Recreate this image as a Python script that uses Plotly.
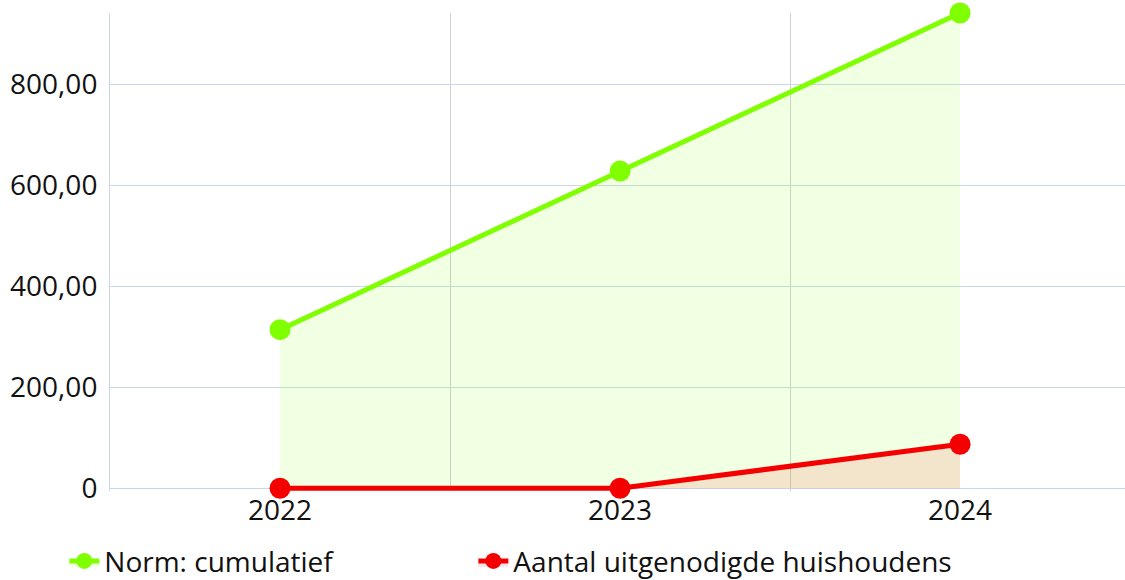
import plotly.graph_objects as go

years = ["2022", "2023", "2024"]
norm_cumulatief = [314, 628, 941]
uitgenodigd = [0, 0, 87]
y_ticks = [0, 200, 400, 600, 800]
y_ticktext = ["0", "200,00", "400,00", "600,00", "800,00"]

x_pos = list(range(len(years)))

FONT = "Open Sans"
FS = 28

fig = go.Figure()
fig.add_trace(go.Scatter(
    x=x_pos, y=norm_cumulatief, name="Norm: cumulatief",
    mode="lines+markers", fill="tozeroy",
    fillcolor="rgba(127,255,0,0.11)",
    line=dict(color="#7fff00", width=5),
    marker=dict(color="#7fff00", size=21),
    cliponaxis=False,
    legend="legend",
))
fig.add_trace(go.Scatter(
    x=x_pos, y=uitgenodigd, name="Aantal uitgenodigde huishoudens",
    mode="lines+markers", fill="tozeroy",
    fillcolor="rgba(255,0,0,0.1)",
    line=dict(color="#f50000", width=5),
    marker=dict(color="#f50000", size=21),
    cliponaxis=False,
    legend="legend2",
))

leg_common = dict(orientation="h", xanchor="left", yanchor="top", y=-0.0946,
                  bgcolor="rgba(0,0,0,0)",
                  font=dict(family=FONT, size=FS, color="#111"))

fig.update_layout(
    width=1125, height=580,
    margin=dict(l=110, r=0, t=13, b=89, autoexpand=False),
    paper_bgcolor="white", plot_bgcolor="white",
    font=dict(family=FONT, size=FS, color="#111"),
    showlegend=True,
    legend=dict(x=-0.045, **leg_common),
    legend2=dict(x=0.358, **leg_common),
    xaxis=dict(
        range=[-0.5, 2.485], tickvals=x_pos, ticktext=years,
        showgrid=False, zeroline=False, showline=False,
        ticks="", tickfont=dict(size=FS),
        minor=dict(tickvals=[0.5, 1.5], showgrid=True, gridcolor="#d0d0d0", gridwidth=1, ticks=""),
    ),
    yaxis=dict(
        range=[-5.5, 941], tickvals=y_ticks, ticktext=y_ticktext,
        showgrid=True, gridcolor="#ccd6eb", gridwidth=1,
        zeroline=True, zerolinecolor="#ccd6eb", zerolinewidth=1,
        showline=True, linecolor="#ccd6eb", linewidth=1,
        ticks="", ticklabelstandoff=6, tickfont=dict(size=FS),
    ),
)

fig.write_html(
    "out.html",
    config={"displayModeBar": False},
    post_script="document.body.style.margin='0';document.body.style.overflow='hidden';",
)
